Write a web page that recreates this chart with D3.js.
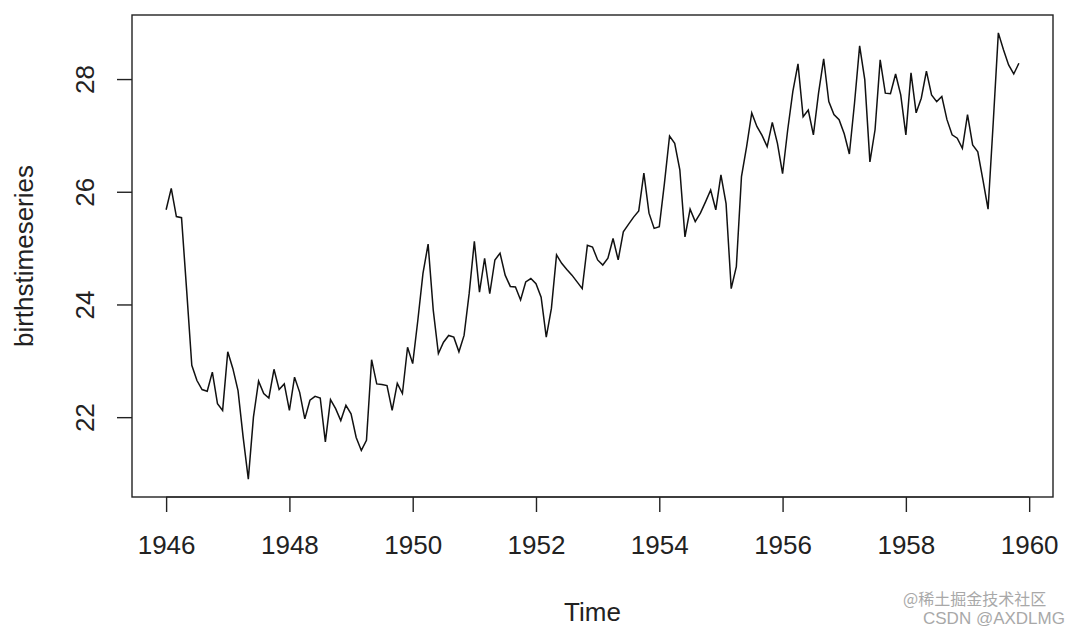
<!DOCTYPE html>
<html>
<head>
<meta charset="utf-8">
<script src="https://cdn.jsdelivr.net/npm/d3@7"></script>
<style>
  body { margin: 0; background: #fff; }
  text { font-family: "Liberation Sans", Arial, sans-serif; }
</style>
</head>
<body>
<div id="chart"></div>
<script>
// monthly series, Jan 1946 - Nov 1959
var startYear = 1946;
var frequency = 12;
var births = [
  25.68, 26.06, 25.56, 25.54, 24.25, 22.92, 22.65, 22.49, 22.46, 22.80, 22.24, 22.12,
  23.16, 22.86, 22.47, 21.64, 20.90, 22.00, 22.64, 22.42, 22.34, 22.85, 22.49, 22.59,
  22.12, 22.71, 22.44, 21.97, 22.30, 22.37, 22.34, 21.56, 22.31, 22.15, 21.94, 22.21,
  22.06, 21.64, 21.41, 21.59, 23.02, 22.59, 22.58, 22.56, 22.12, 22.60, 22.42, 23.24,
  22.95, 23.72, 24.55, 25.07, 23.90, 23.13, 23.33, 23.45, 23.42, 23.16, 23.45, 24.20,
  25.12, 24.22, 24.82, 24.19, 24.79, 24.91, 24.52, 24.32, 24.31, 24.08, 24.40, 24.46,
  24.37, 24.13, 23.42, 23.93, 24.88, 24.73, 24.62, 24.52, 24.40, 24.28, 25.05, 25.02,
  24.79, 24.70, 24.82, 25.17, 24.79, 25.29, 25.42, 25.55, 25.66, 26.33, 25.62, 25.35,
  25.38, 26.15, 26.99, 26.86, 26.39, 25.20, 25.69, 25.47, 25.62, 25.82, 26.03, 25.68,
  26.30, 25.79, 24.28, 24.67, 26.27, 26.80, 27.40, 27.16, 27.00, 26.80, 27.23, 26.86,
  26.32, 27.10, 27.78, 28.27, 27.33, 27.45, 27.01, 27.75, 28.36, 27.60, 27.37, 27.28,
  27.03, 26.67, 27.57, 28.59, 27.99, 26.53, 27.10, 28.34, 27.75, 27.74, 28.09, 27.72,
  27.01, 28.11, 27.40, 27.66, 28.14, 27.72, 27.60, 27.69, 27.28, 27.01, 26.95, 26.77,
  27.37, 26.83, 26.71, 26.21, 25.69, 27.22, 28.82, 28.52, 28.25, 28.09, 28.28
];
var xTicks = [1946, 1948, 1950, 1952, 1954, 1956, 1958, 1960];
var yTicks = [22, 24, 26, 28];
var xLabel = 'Time';
var yLabel = 'birthstimeseries';

var width = 1083, height = 634;
var margin = {top: 15, right: 30, bottom: 137, left: 132};
var plot_w = width - margin.left - margin.right;
var plot_h = height - margin.top - margin.bottom;

var data = births.map(function(v, i) {
    return {t: startYear + i / frequency, v: v};
});

var svg = d3.select('#chart').append('svg')
    .attr('width', width)
    .attr('height', height);

// R style limits: data range plus 4% on each side
var tExt = d3.extent(data, function(d) { return d.t; });
var vExt = d3.extent(data, function(d) { return d.v; });
var tPad = (tExt[1] - tExt[0]) * 0.04;
var vPad = (vExt[1] - vExt[0]) * 0.04;

var x = d3.scaleLinear()
    .domain([tExt[0] - tPad, tExt[1] + tPad])
    .range([margin.left, margin.left + plot_w]);
var y = d3.scaleLinear()
    .domain([vExt[0] - vPad, vExt[1] + vPad])
    .range([margin.top + plot_h, margin.top]);

var line = d3.line()
    .x(function(d) { return x(d.t); })
    .y(function(d) { return y(d.v); });

svg.append('path')
    .datum(data)
    .attr('fill', 'none')
    .attr('stroke', '#111')
    .attr('stroke-width', 1.5)
    .attr('stroke-linejoin', 'miter')
    .attr('d', line);

// x axis
var xAxis = svg.append('g')
    .attr('transform', 'translate(0,' + (margin.top + plot_h) + ')')
    .call(d3.axisBottom(x).tickValues(xTicks).tickSize(15).tickPadding(24).tickFormat(d3.format('d')));
xAxis.select('.domain')
    .attr('d', 'M' + x(xTicks[0]) + ',0H' + x(xTicks[xTicks.length - 1]));
xAxis.selectAll('line').attr('stroke', '#222').attr('stroke-width', 1.4);
xAxis.selectAll('text')
    .attr('fill', '#222')
    .style('font-size', '26px');

// y axis, labels turned like R's default
var yAxis = svg.append('g')
    .attr('transform', 'translate(' + margin.left + ',0)')
    .call(d3.axisLeft(y).tickValues(yTicks).tickSize(15));
yAxis.select('.domain').remove();
yAxis.selectAll('line').attr('stroke', '#222').attr('stroke-width', 1.4);
yAxis.selectAll('text')
    .attr('x', null)
    .attr('dy', null)
    .attr('fill', '#222')
    .attr('text-anchor', 'middle')
    .attr('transform', 'translate(-38,0) rotate(-90)')
    .style('font-size', '26px');

// box
svg.append('rect')
    .attr('x', margin.left)
    .attr('y', margin.top)
    .attr('width', plot_w)
    .attr('height', plot_h)
    .attr('fill', 'none')
    .attr('stroke', '#222')
    .attr('stroke-width', 1.4);

svg.append('text')
    .attr('x', margin.left + plot_w / 2)
    .attr('y', 621)
    .attr('text-anchor', 'middle')
    .attr('fill', '#222')
    .style('font-size', '26px')
    .text(xLabel);

svg.append('text')
    .attr('transform', 'translate(33,' + (margin.top + plot_h / 2) + ') rotate(-90)')
    .attr('text-anchor', 'middle')
    .attr('fill', '#222')
    .style('font-size', '26px')
    .text(yLabel);

// watermark
svg.append('text')
    .attr('x', 903)
    .attr('y', 605)
    .attr('fill', '#9a9a9a')
    .attr('opacity', 0.85)
    .style('font-family', '"Noto Sans CJK SC", "Liberation Sans", sans-serif')
    .style('font-size', '16px')
    .text('@稀土掘金技术社区');
svg.append('text')
    .attr('x', 923)
    .attr('y', 624)
    .attr('fill', '#9a9a9a')
    .attr('opacity', 0.85)
    .style('font-size', '17px')
    .text('CSDN @AXDLMG');
</script>
</body>
</html>
